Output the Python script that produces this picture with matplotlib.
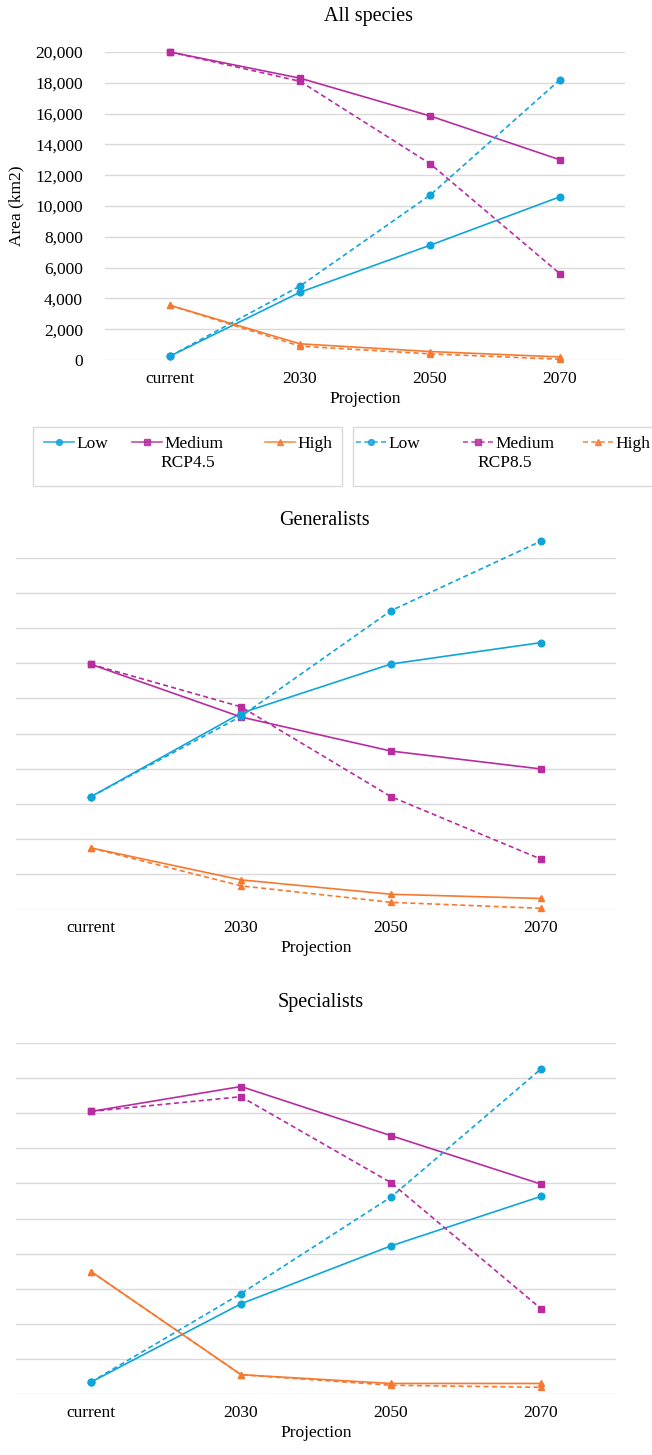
import matplotlib
matplotlib.use("Agg")
import matplotlib.pyplot as plt
from matplotlib.patches import Rectangle
from matplotlib.lines import Line2D
from matplotlib.ticker import FuncFormatter

plt.rcParams['font.family'] = ['Liberation Serif', 'DejaVu Serif']

# Data
years = ["current", "2030", "2050", "2070"]
levels = ["Low", "Medium", "High"]

# All species (km2)
all_low_45 = [250, 4400, 7450, 10600]
all_low_85 = [250, 4800, 10700, 18200]
all_med_45 = [20000, 18300, 15850, 13000]
all_med_85 = [20000, 18100, 12750, 5600]
all_high_45 = [3550, 1050, 550, 200]
all_high_85 = [3550, 900, 400, 50]

# Generalists (gridline units, no axis labels shown)
gen_low_45 = [3.2, 5.58, 6.98, 7.59]
gen_low_85 = [3.2, 5.49, 8.5, 10.48]
gen_med_45 = [6.97, 5.47, 4.5, 3.99]
gen_med_85 = [6.97, 5.76, 3.2, 1.42]
gen_high_45 = [1.74, 0.83, 0.42, 0.30]
gen_high_85 = [1.74, 0.66, 0.19, 0.02]

# Specialists (gridline units)
spe_low_45 = [0.34, 2.57, 4.22, 5.63]
spe_low_85 = [0.34, 2.86, 5.61, 9.26]
spe_med_45 = [8.05, 8.76, 7.36, 5.98]
spe_med_85 = [8.05, 8.47, 6.02, 2.43]
spe_high_45 = [3.49, 0.55, 0.30, 0.30]
spe_high_85 = [3.49, 0.55, 0.25, 0.19]

c_low = "#0fa5db"
c_med = "#b82ca0"
c_high = "#f7782f"
grid_c = "#d9d9d9"

W, H = 652, 1455
fig = plt.figure(figsize=(W / 100, H / 100), dpi=100)


def ax_at(left, top, right, bottom):
    return fig.add_axes([left / W, 1 - bottom / H, (right - left) / W, (bottom - top) / H])


def draw(ax, series, ymax, step):
    x = range(len(years))
    for vals, col, mk, ls in series:
        ax.plot(x, vals, color=col, marker=mk, markersize=4.8, linewidth=1.2,
                linestyle=ls, dashes=(3, 2) if ls == "--" else (None, None),
                clip_on=False, zorder=3)
    ax.set_xlim(-0.5, len(years) - 0.5)
    ax.set_ylim(0, ymax)
    ax.set_yticks([i * step for i in range(int(round(ymax / step)) + 1)])
    ax.grid(axis="y", color=grid_c, linewidth=1.0)
    ax.set_axisbelow(True)
    for s in ax.spines.values():
        s.set_visible(False)
    ax.tick_params(length=0, labelsize=12.5, pad=8)
    ax.set_xticks(list(x))
    ax.set_xticklabels(years)
    ax.set_xlabel("Projection", fontsize=12.5, labelpad=3)


def mk_series(l45, l85, m45, m85, h45, h85):
    return [(l45, c_low, "o", "-"), (m45, c_med, "s", "-"), (h45, c_high, "^", "-"),
            (l85, c_low, "o", "--"), (m85, c_med, "s", "--"), (h85, c_high, "^", "--")]


# All species
ax1 = ax_at(105, 52, 625, 360)
draw(ax1, mk_series(all_low_45, all_low_85, all_med_45, all_med_85, all_high_45, all_high_85), 20000, 2000)
ax1.yaxis.set_major_formatter(FuncFormatter(lambda v, p: f"{int(v):,}"))
ax1.tick_params(axis="y", pad=16)
ax1.set_ylabel("Area (km2)", fontsize=12.5, labelpad=8)
fig.text(369 / W, 1 - 16 / H, "All species", ha="center", va="center", fontsize=14.5)

# Legend boxes (one per scenario), entries placed individually
legend_boxes = [
    (33, 342, "-", "RCP4.5", 188, [44, 132, 265]),
    (353, 660, "--", "RCP8.5", 505, [356, 463, 583]),
]
for bx0, bx1, ls, lab, lab_x, starts in legend_boxes:
    fig.patches.append(Rectangle((bx0 / W, 1 - 486 / H), (bx1 - bx0) / W, 59 / H,
                                 transform=fig.transFigure, fill=False,
                                 edgecolor="#d9d9d9", linewidth=1.0))
    for name, (c, m), sx in zip(levels, [(c_low, "o"), (c_med, "s"), (c_high, "^")], starts):
        h = Line2D([], [], color=c, marker=m, markersize=4.2, linewidth=1.2, linestyle=ls,
                   dashes=(3, 2) if ls == "--" else (None, None), alpha=0.85)
        fig.legend([h], [name], loc="center left", bbox_to_anchor=(sx / W, 1 - 444 / H),
                   frameon=False, fontsize=12.5, handlelength=1.75, handletextpad=0.12,
                   borderpad=0, borderaxespad=0)
    fig.text(lab_x / W, 1 - 463 / H, lab, ha="center", va="center", fontsize=12.5)

# Generalists
ax2 = ax_at(16, 558, 616, 909)
draw(ax2, mk_series(gen_low_45, gen_low_85, gen_med_45, gen_med_85, gen_high_45, gen_high_85), 10, 1)
ax2.set_yticklabels([])
fig.text(324 / W, 1 - 520 / H, "Generalists", ha="center", va="center", fontsize=14.5)

# Specialists
ax3 = ax_at(16, 1043, 616, 1394)
draw(ax3, mk_series(spe_low_45, spe_low_85, spe_med_45, spe_med_85, spe_high_45, spe_high_85), 10, 1)
ax3.set_yticklabels([])
fig.text(321 / W, 1 - 1003 / H, "Specialists", ha="center", va="center", fontsize=14.5)

fig.savefig("out.png", dpi=100)
